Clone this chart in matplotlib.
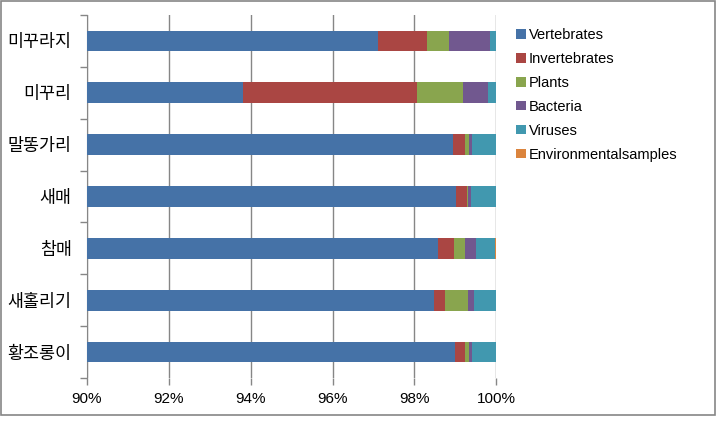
import numpy as np
import matplotlib
matplotlib.use('Agg')
import matplotlib.pyplot as plt
from matplotlib.patches import Rectangle

plt.rcParams['font.family'] = ['Liberation Sans', 'Noto Sans CJK KR', 'DejaVu Sans']

# data (percent share of reads per species)
categories = ['미꾸라지', '미꾸리', '말똥가리', '새매', '참매', '새홀리기', '황조롱이']
series_names = ['Vertebrates', 'Invertebrates', 'Plants', 'Bacteria', 'Viruses',
                'Environmentalsamples']
vertebrates = [97.10, 93.81, 98.95, 99.01, 98.58, 98.48, 98.99]
invertebrates = [1.20, 4.25, 0.28, 0.27, 0.39, 0.27, 0.24]
plants = [0.54, 1.12, 0.10, 0.02, 0.26, 0.56, 0.10]
bacteria = [1.00, 0.61, 0.07, 0.08, 0.27, 0.14, 0.07]
viruses = [0.16, 0.21, 0.60, 0.62, 0.47, 0.55, 0.60]
env_samples = [0.00, 0.00, 0.00, 0.00, 0.03, 0.00, 0.00]
x_ticks = [90, 92, 94, 96, 98, 100]

colors = ['#4572A7', '#AA4643', '#89A54E', '#71588F', '#4198AF', '#DB843D']
GRAY = '#868686'

fig = plt.figure(figsize=(7.17, 4.42), dpi=100)
ax = fig.add_axes([0.1213, 0.1448, 0.5709, 0.8212])

# outer chart border
fig.patches.append(Rectangle((0.0014, 0.061), 0.9958, 0.9367, transform=fig.transFigure,
                             fill=False, edgecolor=GRAY, linewidth=1.2))

y = np.arange(len(categories))[::-1]
left = np.zeros(len(categories))
for name, vals, c in zip(series_names,
                         [vertebrates, invertebrates, plants, bacteria, viruses, env_samples],
                         colors):
    vals = np.array(vals)
    ax.barh(y, vals, left=left, height=0.4, color=c, label=name, zorder=3)
    left += vals

ax.set_xlim(90, 100)
ax.set_ylim(-0.5, len(categories) - 0.5)
ax.set_xticks(x_ticks)
ax.set_xticklabels([f'{t}%' for t in x_ticks], fontsize=11)
ax.grid(axis='x', color=GRAY, linewidth=1.0, zorder=0)

# category boundary ticks, labels centred between them
ax.set_yticks(np.arange(-0.5, len(categories), 1.0))
ax.set_yticklabels([])
ax.set_yticks(y, minor=True)
ax.set_yticklabels(categories, minor=True, fontsize=12.5)
ax.tick_params(axis='y', which='major', length=5, color=GRAY, width=1)
ax.tick_params(axis='y', which='minor', length=0, pad=11)
ax.tick_params(axis='x', length=5, color=GRAY, width=1, pad=5)

for s in ['top', 'right', 'bottom']:
    ax.spines[s].set_visible(False)
ax.spines['left'].set_color(GRAY)

ax.legend(loc='upper left', bbox_to_anchor=(0.712, 0.95), bbox_transform=fig.transFigure,
          frameon=False, fontsize=10.5, handlelength=0.65, handleheight=0.65,
          handletextpad=0.2, labelspacing=0.68, borderaxespad=0)

fig.savefig('out.png', dpi=100)
